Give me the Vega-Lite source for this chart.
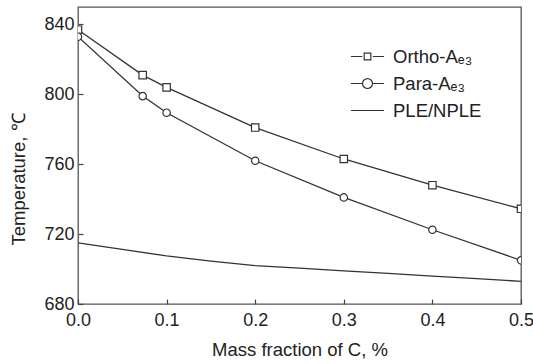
{
  "$schema": "https://vega.github.io/schema/vega-lite/v6.json",
  "width": 443,
  "height": 297,
  "autosize": {"type": "none"},
  "padding": {"left": 78, "top": 7, "right": 12, "bottom": 60},
  "config": {
    "font": "Liberation Sans",
    "view": {"stroke": "#555", "strokeWidth": 1.3},
    "axis": {
      "domain": false,
      "grid": false,
      "labelFlush": false,
      "labelOverlap": false,
      "tickColor": "#444",
      "tickSize": -5,
      "tickWidth": 1.2,
      "labelFont": "Liberation Sans",
      "labelFontSize": 18,
      "labelColor": "#222",
      "titleFont": "Liberation Sans",
      "titleFontSize": 18.5,
      "titleFontWeight": "normal",
      "titleColor": "#222"
    }
  },
  "data": {
    "values": [
      {"series": "Ortho", "c": 0, "t": 837},
      {"series": "Ortho", "c": 0.073, "t": 811},
      {"series": "Ortho", "c": 0.1, "t": 804},
      {"series": "Ortho", "c": 0.2, "t": 781},
      {"series": "Ortho", "c": 0.3, "t": 763},
      {"series": "Ortho", "c": 0.4, "t": 748},
      {"series": "Ortho", "c": 0.5, "t": 734.5},
      {"series": "Para", "c": 0, "t": 833},
      {"series": "Para", "c": 0.073, "t": 799},
      {"series": "Para", "c": 0.1, "t": 789.5},
      {"series": "Para", "c": 0.2, "t": 762},
      {"series": "Para", "c": 0.3, "t": 741},
      {"series": "Para", "c": 0.4, "t": 722.5},
      {"series": "Para", "c": 0.5, "t": 705},
      {"series": "PLE", "c": 0, "t": 715},
      {"series": "PLE", "c": 0.05, "t": 711.3},
      {"series": "PLE", "c": 0.1, "t": 707.5},
      {"series": "PLE", "c": 0.15, "t": 704.5},
      {"series": "PLE", "c": 0.2, "t": 702},
      {"series": "PLE", "c": 0.25, "t": 700.5},
      {"series": "PLE", "c": 0.3, "t": 699},
      {"series": "PLE", "c": 0.35, "t": 697.5},
      {"series": "PLE", "c": 0.4, "t": 696},
      {"series": "PLE", "c": 0.45, "t": 694.5},
      {"series": "PLE", "c": 0.5, "t": 693}
    ]
  },
  "layer": [
    {
      "mark": {"type": "line", "strokeWidth": 1.3, "clip": true},
      "encoding": {
        "x": {
          "field": "c", "type": "quantitative",
          "scale": {"domain": [0, 0.5], "nice": false, "zero": false},
          "axis": {"values": [0, 0.1, 0.2, 0.3, 0.4, 0.5], "format": ".1f", "labelPadding": 12, "title": "Mass fraction of C, %", "titlePadding": 11}
        },
        "y": {
          "field": "t", "type": "quantitative",
          "scale": {"domain": [680, 850], "nice": false, "zero": false},
          "axis": {"values": [680, 720, 760, 800, 840], "labelPadding": 9, "title": "Temperature, ℃", "titlePadding": 15, "titleY": 172}
        },
        "color": {
          "field": "series", "type": "nominal",
          "scale": {"domain": ["Ortho", "Para", "PLE"], "range": ["#333", "#333", "#333"]},
          "legend": {
            "title": null,
            "orient": "none",
            "legendX": 272,
            "legendY": 32,
            "symbolSize": 1100,
            "labelFontSize": 18.5,
            "labelColor": "#222",
            "labelFont": "Liberation Sans",
            "labelOffset": 8,
            "rowPadding": -1,
            "labelExpr": "datum.value == 'Ortho' ? 'Ortho-Aₑ₃' : datum.value == 'Para' ? 'Para-Aₑ₃' : 'PLE/NPLE'",
            "encode": {
              "symbols": {
                "update": {
                  "shape": {"signal": "datum.value == 'Ortho' ? 'M-1,0H-0.32M0.32,0H1M-0.2,-0.2H0.2V0.2H-0.2Z' : datum.value == 'Para' ? 'M-1,0H-0.3M0.3,0H1M-0.3,0A0.3,0.3 0 1,0 0.3,0A0.3,0.3 0 1,0 -0.3,0Z' : 'M-1,0H1'"},
                  "fill": {"value": "white"},
                  "stroke": {"value": "#333"},
                  "strokeWidth": {"value": 1.2}
                }
              }
            }
          }
        }
      }
    },
    {
      "transform": [{"filter": "datum.series !== 'PLE'"}],
      "mark": {"type": "point", "fill": "white", "stroke": "#333", "strokeWidth": 1.2, "size": 55, "opacity": 1, "filled": true, "clip": true},
      "encoding": {
        "x": {"field": "c", "type": "quantitative"},
        "y": {"field": "t", "type": "quantitative"},
        "shape": {
          "field": "series", "type": "nominal",
          "scale": {"domain": ["Ortho", "Para"], "range": ["square", "circle"]},
          "legend": null
        }
      }
    }
  ]
}
